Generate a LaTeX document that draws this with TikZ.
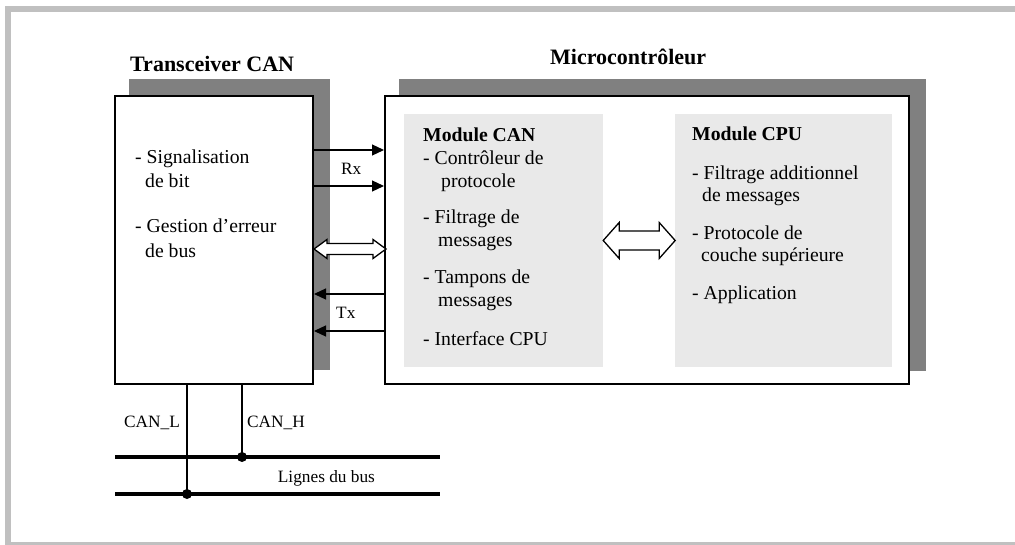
\documentclass[tikz,border=0pt]{standalone}
\usepackage{fontspec}
\setmainfont{Liberation Serif}
\usetikzlibrary{arrows.meta}
\definecolor{framegray}{HTML}{C0C0C0}
\definecolor{shadowgray}{HTML}{808080}
\definecolor{modfill}{HTML}{E9E9E9}

\begin{document}
\begin{tikzpicture}[x=1pt,y=-1pt,
  box/.style={rectangle,draw=black,line width=2pt,fill=white,inner sep=0pt},
  modbox/.style={rectangle,fill=modfill,draw=none,inner sep=0pt},
  title/.style={font=\fontsize{22}{26}\selectfont\bfseries,anchor=base west,inner sep=0pt},
  body/.style={font=\fontsize{19.7}{23}\selectfont,anchor=base west,inner sep=0pt},
  head/.style={font=\fontsize{19.7}{23}\selectfont\bfseries,anchor=base west,inner sep=0pt},
  small/.style={font=\fontsize{17.3}{20}\selectfont,anchor=base west,inner sep=0pt},
  sig/.style={line width=1.2pt,-{Triangle[length=12pt,width=11pt]}},
  hollow/.style={draw=black,fill=white,line width=1.3pt,line join=miter},
  wire/.style={line width=1.3pt},
  bus/.style={line width=4pt},
  junction/.style={circle,fill=black,inner sep=0pt,minimum size=10pt}
]
\useasboundingbox (0,0) rectangle (1015,545);

% outer frame
\fill[framegray] (5,6) rectangle (1015,12);
\fill[framegray] (5,6) rectangle (11,545);
\fill[framegray] (11,541.5) rectangle (1015,545);

% drop shadows
\fill[shadowgray] (129,79) rectangle (330,370);
\fill[shadowgray] (399,79) rectangle (926,371);

% main blocks
\node[box,minimum width=198pt,minimum height=288pt] (tr) at (214,240) {};
\node[box,minimum width=524pt,minimum height=288pt] (mc) at (647,240) {};

% inner modules
\node[modbox,minimum width=199pt,minimum height=253pt] (canmod) at (503.5,240.5) {};
\node[modbox,minimum width=217pt,minimum height=253pt] (cpumod) at (783.5,240.5) {};

% titles
\node[title] (ttr) at (130,71.7) {Transceiver CAN};
\node[title] (tmc) at (550,65) {Microcontrôleur};

% transceiver functions
\node[body] (t1) at (135,164) {- Signalisation};
\node[body] (t2) at (145,188) {de bit};
\node[body] (t3) at (135,233) {- Gestion d’erreur};
\node[body] (t4) at (145,258) {de bus};

% CAN module
\node[head] (c0) at (423,141.5) {Module CAN};
\node[body] (c1) at (423,165) {- Contrôleur de};
\node[body] (c2) at (441,188) {protocole};
\node[body] (c3) at (423,224) {- Filtrage de};
\node[body] (c4) at (438,247) {messages};
\node[body] (c5) at (423,284) {- Tampons de};
\node[body] (c6) at (438,307) {messages};
\node[body] (c7) at (423,346) {- Interface CPU};

% CPU module
\node[head] (p0) at (692,141) {Module CPU};
\node[body] (p1) at (692,180) {- Filtrage additionnel};
\node[body] (p2) at (702,202) {de messages};
\node[body] (p3) at (692,240) {- Protocole de};
\node[body] (p4) at (701,262) {couche supérieure};
\node[body] (p5) at (692,300) {- Application};

% Rx / Tx lines
\draw[sig] (tr.east |- 0,150) -- (mc.west |- 0,150);
\draw[sig] (tr.east |- 0,186) -- (mc.west |- 0,186);
\draw[sig] (mc.west |- 0,294) -- (tr.east |- 0,294);
\draw[sig] (mc.west |- 0,331) -- (tr.east |- 0,331);
\node[small] (rx) at (341,175) {Rx};
\node[small] (tx) at (336,319) {Tx};

% bidirectional data link transceiver <-> controller
\draw[hollow] (tr.east |- 0,249) -- ++(13,-9.5) -- ++(0,4) -- ++(46,0) -- ++(0,-4)
  -- ++(13,9.5) -- ++(-13,9.5) -- ++(0,-4) -- ++(-46,0) -- ++(0,4) -- cycle;

% bidirectional link CAN module <-> CPU module
\draw[hollow] (canmod.east |- 0,240.5) -- ++(16,-18) -- ++(0,8.5) -- ++(40,0) -- ++(0,-8.5)
  -- ++(16,18) -- ++(-16,18) -- ++(0,-8.5) -- ++(-40,0) -- ++(0,8.5) -- cycle;

% bus lines
\coordinate (hA) at (115,457);
\coordinate (hB) at (440,457);
\coordinate (lA) at (115,494);
\coordinate (lB) at (440,494);
\draw[bus] (hA) -- (hB);
\draw[bus] (lA) -- (lB);

\node[junction] (jH) at (242,457) {};
\node[junction] (jL) at (187,494) {};
\draw[wire] (tr.south -| jL) -- (jL.center);
\draw[wire] (tr.south -| jH) -- (jH.center);

\node[small] (canl) at (124,427) {CAN\_L};
\node[small] (canh) at (247,427) {CAN\_H};
\node[small] (bus) at (277.7,482) {Lignes du bus};
\end{tikzpicture}
\end{document}
